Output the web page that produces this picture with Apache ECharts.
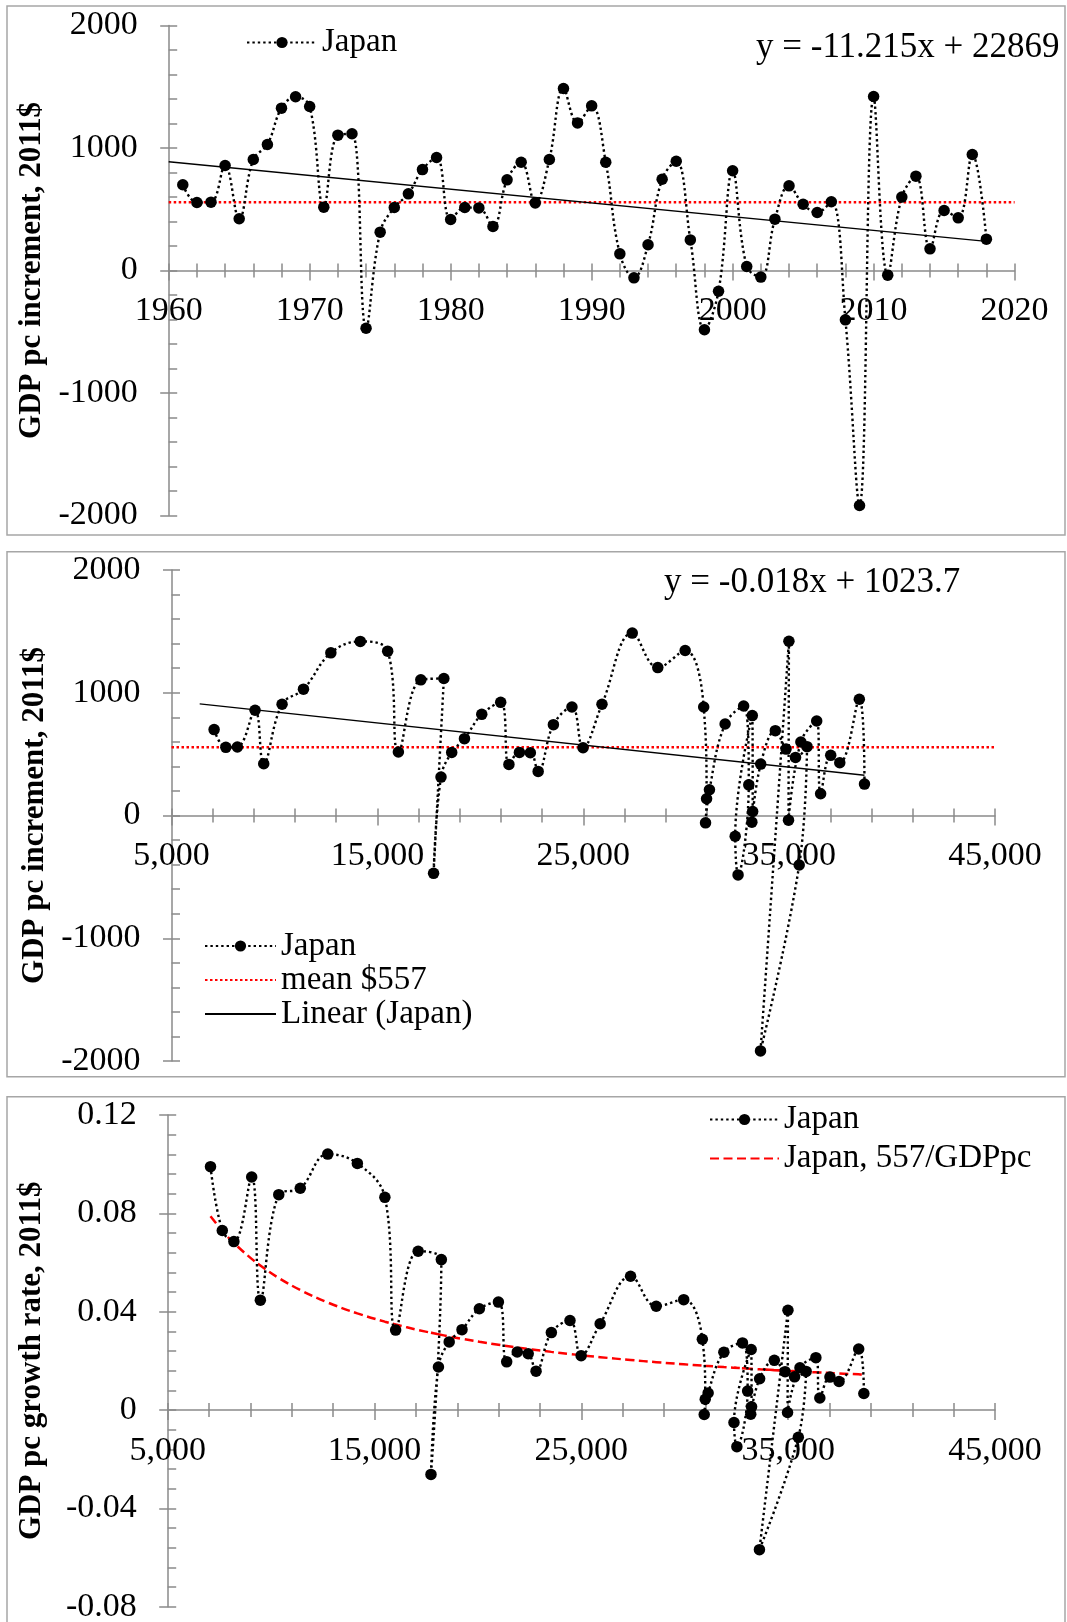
<!DOCTYPE html>
<html>
<head>
<meta charset="utf-8">
<script src="https://cdn.jsdelivr.net/npm/echarts@6/dist/echarts.min.js"></script>
<style>
  html, body { margin: 0; padding: 0; background: #ffffff; }
  #chart { width: 1067px; height: 1622px; }
</style>
</head>
<body>
<div id="chart"></div>
<script>
// Japan, GDP per capita (2011$): yearly increment, level and growth rate
const years = [
  1961, 1962, 1963, 1964, 1965, 1966, 1967, 1968, 1969, 1970,
  1971, 1972, 1973, 1974, 1975, 1976, 1977, 1978, 1979, 1980,
  1981, 1982, 1983, 1984, 1985, 1986, 1987, 1988, 1989, 1990,
  1991, 1992, 1993, 1994, 1995, 1996, 1997, 1998, 1999, 2000,
  2001, 2002, 2003, 2004, 2005, 2006, 2007, 2008, 2009, 2010,
  2011, 2012, 2013, 2014, 2015, 2016, 2017, 2018
];
// yearly increment of GDP per capita, $
const increments = [
  700, 555, 558, 857, 422, 906, 1029, 1325, 1418, 1339,
  517, 1105, 1116, -471, 313, 514, 626, 824, 922, 416,
  514, 511, 359, 740, 884, 552, 906, 1486, 1205, 1344,
  884, 136, -60, 210, 745, 892, 250, -484, -169, 814,
  33, -54, 419, 691, 541, 473, 561, -403, -1918, 1420,
  -38, 599, 770, 177, 490, 430, 947, 256
];
// GDP per capita level, $
const gdpLevel = [
  7070, 7640, 8200, 9060, 9480, 10370, 11410, 12740, 14170, 15500,
  16020, 17110, 18230, 17730, 18090, 18610, 19230, 20070, 20990, 21390,
  21900, 22430, 22810, 23550, 24450, 24990, 25910, 27380, 28620, 29950,
  30850, 30990, 30940, 31130, 31890, 32790, 33040, 32520, 32380, 33210,
  33230, 33190, 33620, 34330, 34850, 35310, 35870, 35490, 33610, 34990,
  34970, 35570, 36340, 36530, 37020, 37460, 38410, 38660
];
// growth rate of GDP per capita
const growthRate = [
  0.0990, 0.0730, 0.0685, 0.0948, 0.0447, 0.0876, 0.0902, 0.1041, 0.1003, 0.0865,
  0.0325, 0.0646, 0.0612, -0.0262, 0.0175, 0.0277, 0.0327, 0.0412, 0.0439, 0.0196,
  0.0236, 0.0229, 0.0158, 0.0315, 0.0364, 0.0221, 0.0351, 0.0544, 0.0422, 0.0449,
  0.0288, 0.0044, -0.0018, 0.0069, 0.0235, 0.0273, 0.0077, -0.0149, -0.0051, 0.0246,
  0.0013, -0.0017, 0.0127, 0.0202, 0.0156, 0.0135, 0.0157, -0.0111, -0.0568, 0.0406,
  -0.0010, 0.0172, 0.0213, 0.0049, 0.0134, 0.0116, 0.0248, 0.0067
];

const meanIncrement = 557;
// linear fits: [slope, intercept] and the x span each line covers
const trendYearCoef = [-11.215, 22869];
const trendYearSpan = [1960, 2018];
const trendGdpCoef = [-0.018, 1023.7];
const trendGdpSpan = [6370, 38660];

// axis ranges: [min, max, interval]
const yearAxis = [1960, 2020, 10];
const gdpAxis = [5000, 45000, 10000];
const incAxis = [-2000, 2000, 1000];
const rateAxis = [-0.08, 0.12, 0.04];

const SERIF = '"Liberation Serif", "Times New Roman", serif';
const AXIS_GREY = '#8a8a8a';
const FONT = 34;
const LEGEND_FONT = 33;

const pairs = (xs, ys) => xs.map((x, i) => [x, ys[i]]);
const fit = (coef, x) => coef[0] * x + coef[1];
const thousands = v => String(Math.round(v)).replace(/\B(?=(\d{3})+(?!\d))/g, ',');

// grid rectangles of the three panels
const grids = [
  { left: 168.7, top: 25.5, width: 845.9, height: 490 },
  { left: 171.5, top: 570, width: 823.5, height: 491 },
  { left: 167.7, top: 1115, width: 827.3, height: 491.7 }
];

const xAxes = [];
const yAxes = [];
function addAxes(gi, xr, yr, xFmt, yFmt, yName) {
  const g = grids[gi];
  // the horizontal axis runs along value 0 of the vertical axis
  const zeroFromBottom = g.height * (0 - yr[0]) / (yr[1] - yr[0]);
  const tickLine = { color: AXIS_GREY, width: 1.5 };
  // x axis: labels, downward ticks
  xAxes.push({
    type: 'value', gridIndex: gi, position: 'bottom', offset: -zeroFromBottom,
    min: xr[0], max: xr[1], interval: xr[2],
    axisLine: { show: true, onZero: false, lineStyle: tickLine },
    axisTick: { show: true, inside: false, length: 10, lineStyle: tickLine },
    minorTick: { show: true, splitNumber: 5, length: 7, lineStyle: tickLine },
    axisLabel: { show: true, margin: 24, color: '#000', fontFamily: SERIF, fontSize: FONT, formatter: xFmt },
    splitLine: { show: false }, minorSplitLine: { show: false }
  });
  // x axis: upward half of the crossing ticks
  xAxes.push({
    type: 'value', gridIndex: gi, position: 'bottom', offset: -zeroFromBottom,
    min: xr[0], max: xr[1], interval: xr[2],
    axisLine: { show: false, onZero: false },
    axisTick: { show: true, inside: true, length: 7, lineStyle: tickLine },
    minorTick: { show: true, splitNumber: 5, length: 7, lineStyle: tickLine },
    axisLabel: { show: false },
    splitLine: { show: false }, minorSplitLine: { show: false }
  });
  // y axis: labels, title, outward major ticks
  yAxes.push({
    type: 'value', gridIndex: gi, position: 'left', min: yr[0], max: yr[1], interval: yr[2],
    name: yName, nameLocation: 'middle', nameGap: 120, nameRotate: 90,
    nameTextStyle: { color: '#000', fontFamily: SERIF, fontWeight: 'bold', fontSize: 31 },
    axisLine: { show: true, onZero: false, lineStyle: tickLine },
    axisTick: { show: true, inside: false, length: 8.5, lineStyle: tickLine },
    minorTick: { show: false },
    axisLabel: { show: true, margin: 31, color: '#000', fontFamily: SERIF, fontSize: FONT, formatter: yFmt },
    splitLine: { show: false }, minorSplitLine: { show: false }
  });
  // y axis: inward major and minor ticks
  yAxes.push({
    type: 'value', gridIndex: gi, position: 'left', min: yr[0], max: yr[1], interval: yr[2],
    axisLine: { show: false, onZero: false },
    axisTick: { show: true, inside: true, length: 8.5, lineStyle: tickLine },
    minorTick: { show: true, splitNumber: 5, length: 8.5, lineStyle: tickLine },
    axisLabel: { show: false },
    splitLine: { show: false }, minorSplitLine: { show: false }
  });
}

addAxes(0, yearAxis, incAxis, v => String(v), v => String(v), 'GDP pc increment, 2011$');
addAxes(1, gdpAxis, incAxis, thousands, v => String(v), 'GDP pc increment, 2011$');
addAxes(2, gdpAxis, rateAxis, thousands, v => String(+v.toFixed(2)), 'GDP pc growth rate, 2011$');

const japanStyle = gi => ({
  name: 'Japan', type: 'line', xAxisIndex: 2 * gi, yAxisIndex: 2 * gi,
  smooth: 0.4, symbol: 'circle', symbolSize: 11.5, showSymbol: true,
  lineStyle: { color: '#000', width: 2.4, type: [2.4, 3] },
  itemStyle: { color: '#000' }, z: 5
});
const meanStyle = (gi, data) => ({
  name: 'mean $557', type: 'line', xAxisIndex: 2 * gi, yAxisIndex: 2 * gi,
  symbol: 'none', data: data,
  lineStyle: { color: '#ff0000', width: 2.5, type: [2.5, 2.5] },
  itemStyle: { color: '#ff0000' }, z: 2
});
const trendStyle = (gi, data) => ({
  name: 'Linear (Japan)', type: 'line', xAxisIndex: 2 * gi, yAxisIndex: 2 * gi,
  symbol: 'none', data: data,
  lineStyle: { color: '#000', width: 1.3, type: 'solid' },
  itemStyle: { color: '#000' }, z: 3
});

const series = [
  // top panel: increment by year
  meanStyle(0, [[yearAxis[0], meanIncrement], [yearAxis[1], meanIncrement]]),
  trendStyle(0, trendYearSpan.map(x => [x, fit(trendYearCoef, x)])),
  Object.assign(japanStyle(0), { data: pairs(years, increments) }),
  // middle panel: increment by GDP per capita level
  meanStyle(1, [[gdpAxis[0], meanIncrement], [gdpAxis[1], meanIncrement]]),
  trendStyle(1, trendGdpSpan.map(x => [x, fit(trendGdpCoef, x)])),
  Object.assign(japanStyle(1), { data: pairs(gdpLevel, increments) }),
  // bottom panel: growth rate by GDP per capita level
  {
    name: 'Japan, 557/GDPpc', type: 'line', xAxisIndex: 4, yAxisIndex: 4,
    symbol: 'none', smooth: 0.4,
    data: gdpLevel.map(g => [g, meanIncrement / g]),
    lineStyle: { color: '#ff0000', width: 2.5, type: [9, 4.5] },
    itemStyle: { color: '#ff0000' }, z: 3
  },
  Object.assign(japanStyle(2), { data: pairs(gdpLevel, growthRate) })
];

// legend entries for plain lines carry no marker
const lineOnly = name => ({ name: name, itemStyle: { opacity: 0, color: 'rgba(0,0,0,0)' } });
const legendText = { color: '#000', fontFamily: SERIF, fontSize: LEGEND_FONT };
const legends = [
  { data: ['Japan'], left: 246, top: 26, orient: 'horizontal', padding: 0,
    itemWidth: 70, itemHeight: 14, itemGap: 10, textStyle: legendText, selectedMode: false },
  { data: ['Japan', lineOnly('mean $557'), lineOnly('Linear (Japan)')], left: 204, top: 929.5,
    orient: 'vertical', padding: 0,
    itemWidth: 71, itemHeight: 14, itemGap: 1, textStyle: legendText, selectedMode: false },
  { data: ['Japan', lineOnly('Japan, 557/GDPpc')], left: 709, top: 1103, orient: 'vertical', padding: 0,
    itemWidth: 69, itemHeight: 14, itemGap: 6, textStyle: legendText, selectedMode: false }
];

// panel frames and fitted-line equations
const frame = (y0, y1) => ({
  type: 'rect', silent: true, z: -10,
  shape: { x: 7, y: y0, width: 1058, height: y1 - y0 },
  style: { fill: 'none', stroke: '#a6a6a6', lineWidth: 1.5 }
});
const eqText = (x, y, text) => ({
  type: 'text', silent: true, x: x, y: y,
  style: { text: text, fill: '#000', fontFamily: SERIF, fontSize: 35, verticalAlign: 'middle', align: 'left' }
});

const chart = echarts.init(document.getElementById('chart'), null, { renderer: 'canvas' });
chart.setOption({
  backgroundColor: '#ffffff',
  animation: false,
  grid: grids.map(g => Object.assign({ containLabel: false, outerBoundsMode: 'none' }, g)),
  xAxis: xAxes,
  yAxis: yAxes,
  legend: legends,
  series: series,
  graphic: [
    frame(6, 535),
    frame(551.7, 1076.7),
    frame(1096.7, 1640),
    eqText(756, 48, 'y = -' + Math.abs(trendYearCoef[0]).toFixed(3) + 'x + ' + trendYearCoef[1]),
    eqText(664, 583, 'y = -' + Math.abs(trendGdpCoef[0]).toFixed(3) + 'x + ' + trendGdpCoef[1].toFixed(1))
  ]
});
</script>
</body>
</html>
